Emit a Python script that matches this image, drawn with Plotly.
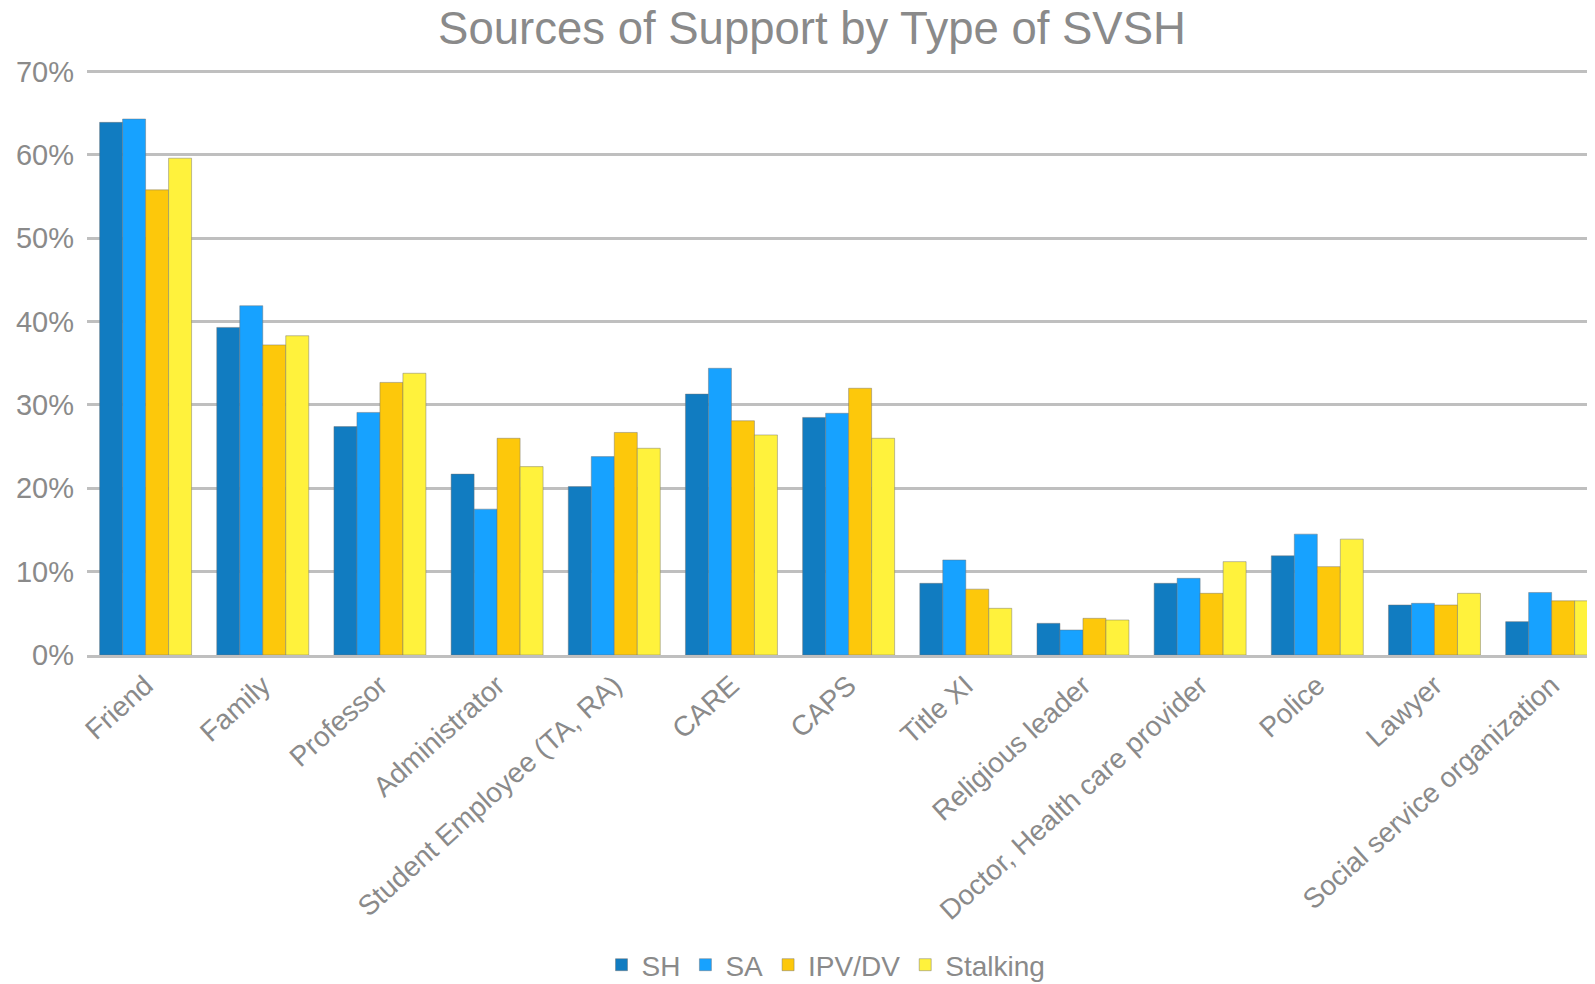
import plotly.graph_objects as go

categories = ["Friend", "Family", "Professor", "Administrator", "Student Employee (TA, RA)",
              "CARE", "CAPS", "Title XI", "Religious leader", "Doctor, Health care provider",
              "Police", "Lawyer", "Social service organization"]

sh = [0.639, 0.393, 0.274, 0.217, 0.202, 0.313, 0.285, 0.086, 0.038, 0.086, 0.119, 0.060, 0.040]
sa = [0.643, 0.419, 0.291, 0.175, 0.238, 0.344, 0.290, 0.114, 0.030, 0.092, 0.145, 0.062, 0.075]
ipv = [0.558, 0.372, 0.327, 0.260, 0.267, 0.281, 0.320, 0.079, 0.044, 0.074, 0.106, 0.060, 0.065]
stalking = [0.596, 0.383, 0.338, 0.226, 0.248, 0.264, 0.260, 0.056, 0.042, 0.112, 0.139, 0.074, 0.065]

series = [("SH", sh, "#117CC1"), ("SA", sa, "#17A2FF"),
          ("IPV/DV", ipv, "#FDC80B"), ("Stalking", stalking, "#FFF23C")]

fig = go.Figure()
for name, vals, col in series:
    fig.add_trace(go.Bar(x=categories, y=vals, name=name,
                         marker=dict(color=col, line=dict(color="rgba(110,110,110,0.45)", width=1))))

# page body adds an 8px offset, so positions below are shifted by 8
W, H = 1595, 984
grey = "#8A8A8A"
fig.update_layout(
    title=dict(text="Sources of Support by Type of SVSH", x=804 / W, xanchor="center",
               y=1 - 20 / H, yanchor="middle", font=dict(size=45.5, color=grey)),
    width=W, height=H,
    barmode="group", bargap=0.215, bargroupgap=0,
    plot_bgcolor="white", paper_bgcolor="white",
    margin=dict(l=79, r=8, t=61, b=337),
    font=dict(family="Liberation Sans, Arial", size=28, color=grey),
    legend=dict(orientation="h", xref="container", x=818 / W, xanchor="center",
                yref="container", y=1 - 957 / H, yanchor="middle",
                font=dict(size=28, color=grey), itemwidth=30, traceorder="normal"),
    showlegend=True,
)
fig.update_xaxes(range=[-0.5, 12.37], tickangle=-42, showline=True, linecolor="#BFBFBF",
                 linewidth=3, ticks="", showgrid=False, automargin=False)
fig.update_yaxes(range=[0, 0.703], tickformat=".0%", dtick=0.1, showgrid=True,
                 gridcolor="#BFBFBF", gridwidth=3, zeroline=False, ticks="",
                 ticklabelstandoff=12, tickfont=dict(size=29), automargin=False)

fig.write_html("out.html")
